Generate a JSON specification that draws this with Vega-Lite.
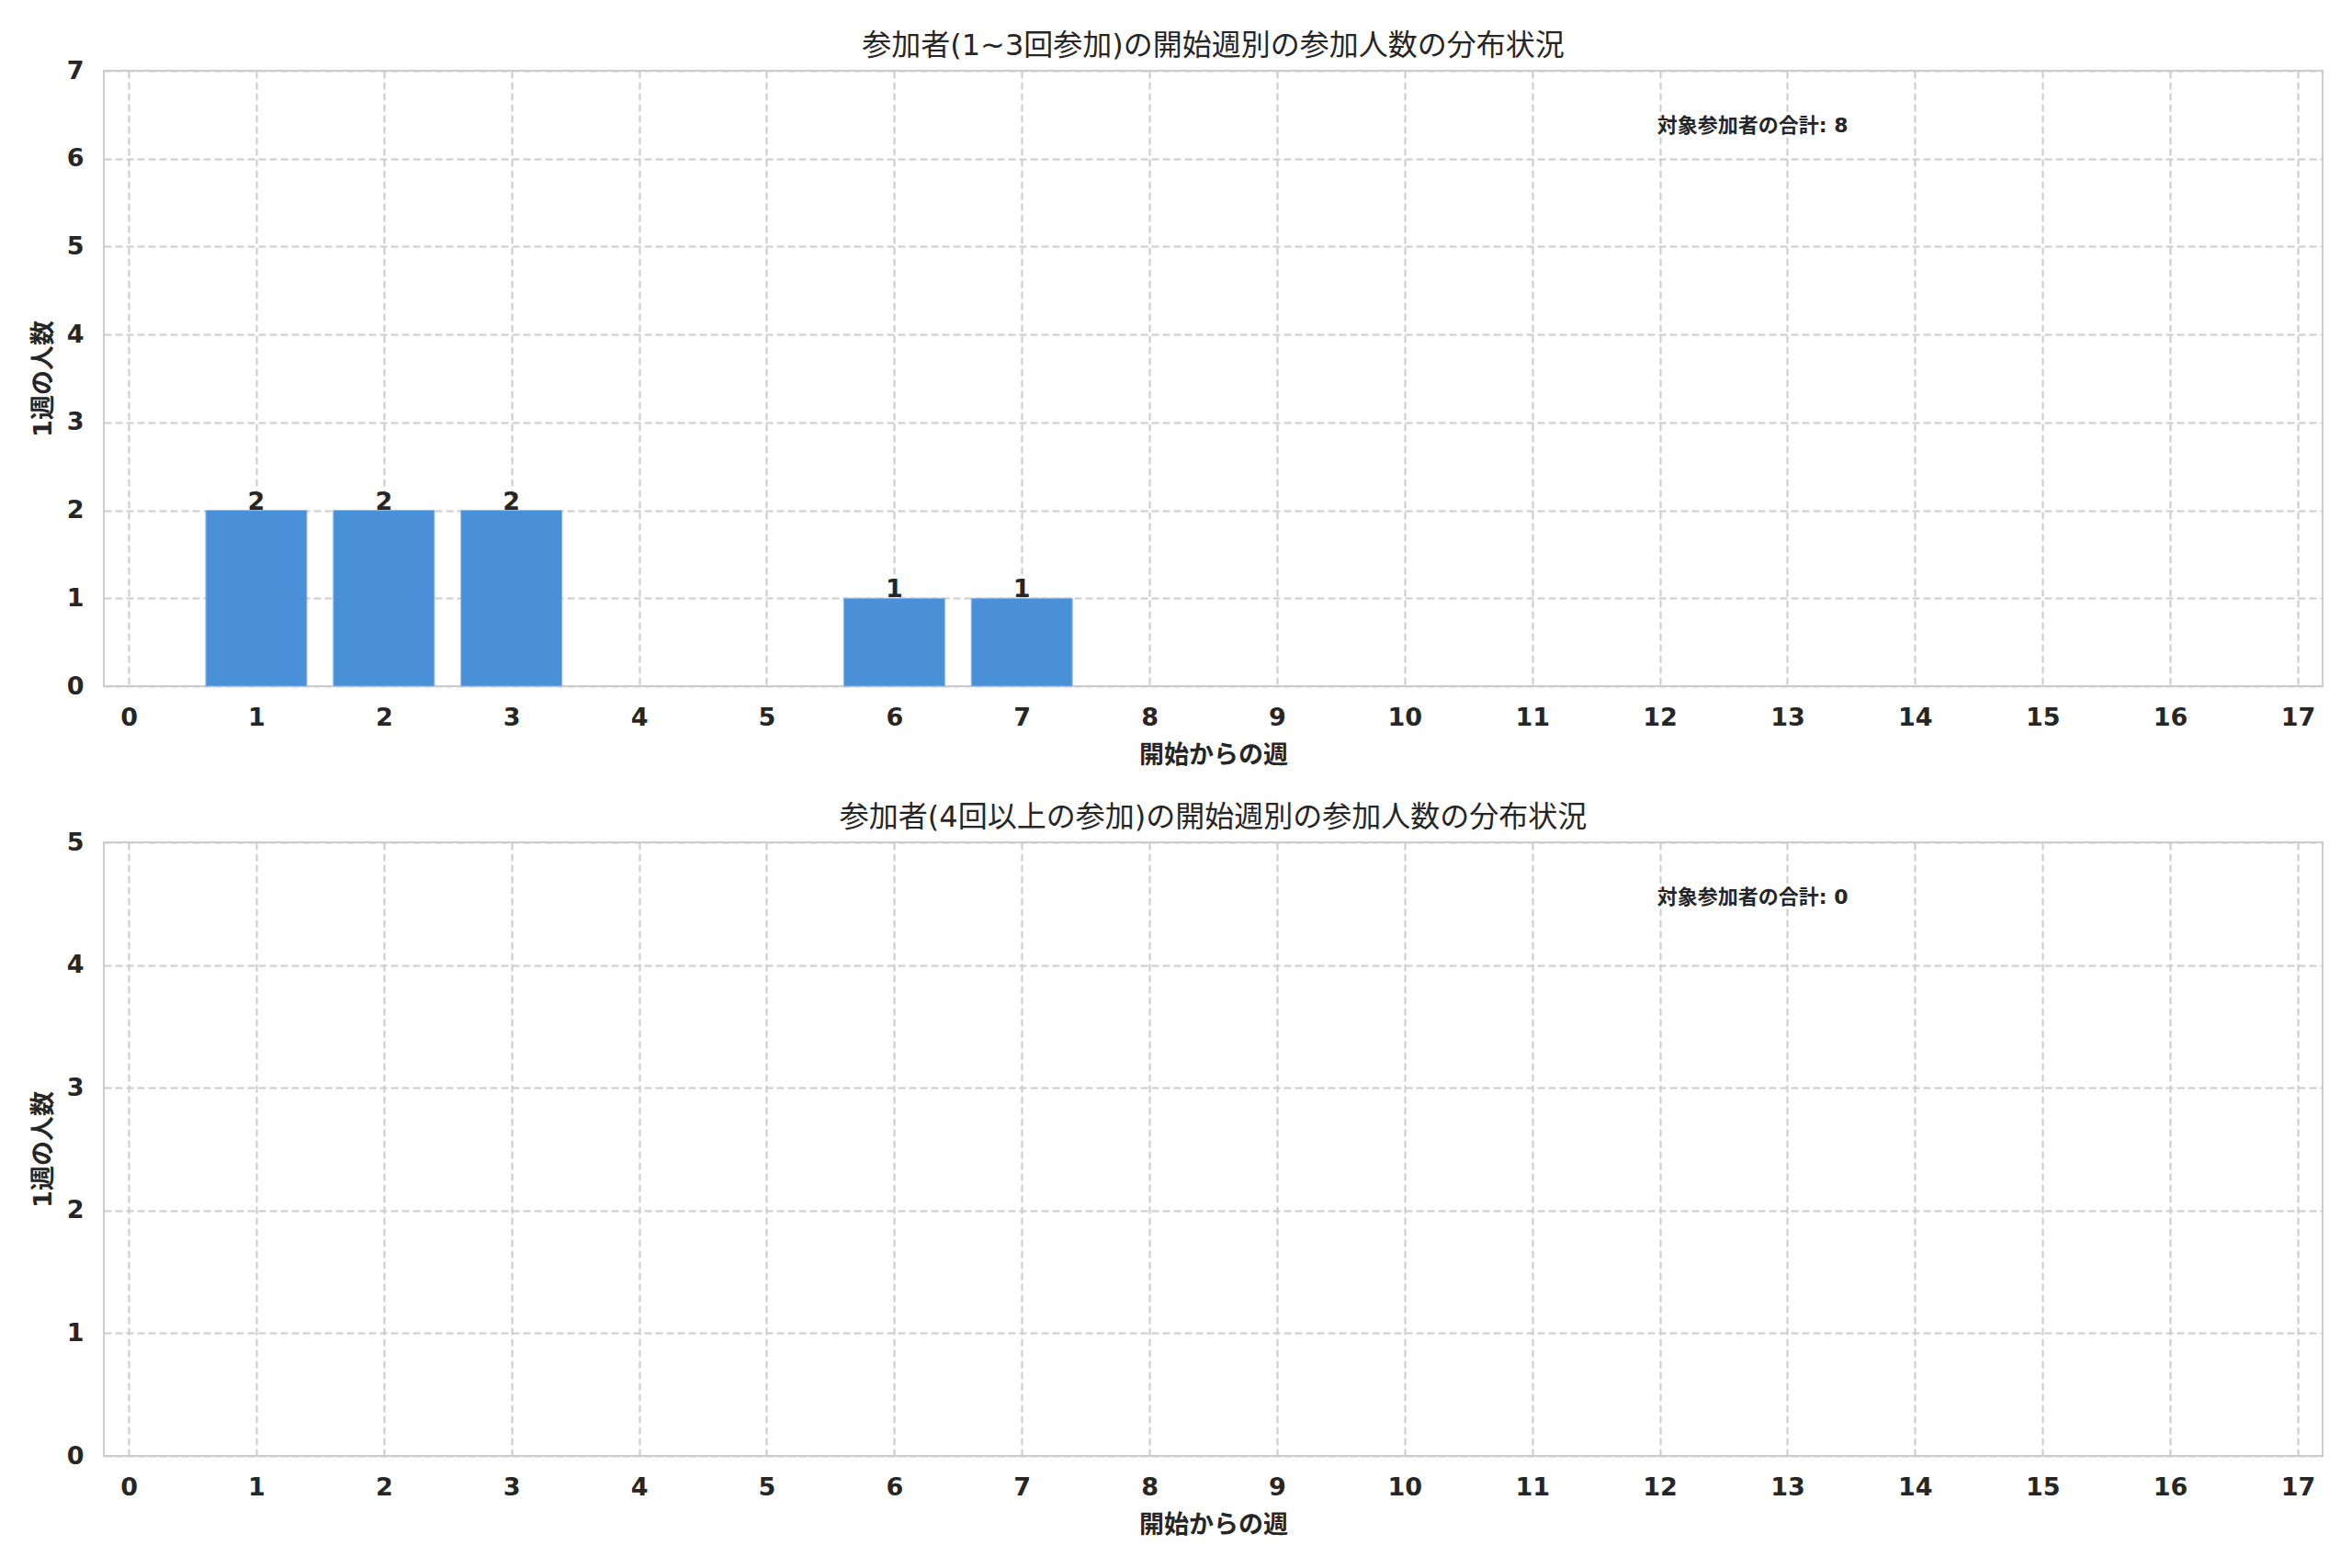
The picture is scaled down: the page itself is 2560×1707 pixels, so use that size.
{
  "$schema": "https://vega.github.io/schema/vega-lite/v6.1.0.json",
  "description": "参加者の週別参加人数の分布 (1~3回参加 / 4回以上の参加)",
  "background": "white",
  "padding": {"left": 32, "top": 33, "right": 20, "bottom": 10},
  "spacing": 37,
  "datasets": {
    "short": [
      {"week": 1, "n": 2},
      {"week": 2, "n": 2},
      {"week": 3, "n": 2},
      {"week": 6, "n": 1},
      {"week": 7, "n": 1}
    ],
    "noteShort": [{"week": 11.98, "n": 6.3, "label": "対象参加者の合計: 8"}],
    "noteLong": [{"week": 11.98, "n": 4.5, "label": "対象参加者の合計: 0"}]
  },
  "vconcat": [
    {
      "title": "参加者(1~3回参加)の開始週別の参加人数の分布状況",
      "width": 2415,
      "height": 670,
      "encoding": {
        "x": {
          "field": "week",
          "type": "quantitative",
          "title": "開始からの週",
          "scale": {"domain": [-0.195, 17.195], "nice": false, "zero": false, "padding": 0},
          "axis": {"values": [0, 1, 2, 3, 4, 5, 6, 7, 8, 9, 10, 11, 12, 13, 14, 15, 16, 17]}
        },
        "y": {
          "field": "n",
          "type": "quantitative",
          "title": "1週の人数",
          "scale": {"domain": [0, 7], "nice": false},
          "axis": {"values": [0, 1, 2, 3, 4, 5, 6, 7]}
        }
      },
      "layer": [
        {
          "data": {"name": "short"},
          "mark": {"type": "bar", "size": 110, "color": "#4a90d9", "stroke": "#8fbbe8", "strokeWidth": 1}
        },
        {
          "data": {"name": "short"},
          "mark": {"type": "text", "baseline": "alphabetic", "dy": -1, "fontSize": 27, "fontWeight": "bold", "color": "#262626"},
          "encoding": {"text": {"field": "n", "type": "quantitative"}}
        },
        {
          "data": {"name": "noteShort"},
          "mark": {"type": "text", "align": "left", "baseline": "alphabetic", "fontSize": 22, "fontWeight": "bold", "color": "#262626"},
          "encoding": {"text": {"field": "label"}}
        }
      ]
    },
    {
      "title": "参加者(4回以上の参加)の開始週別の参加人数の分布状況",
      "width": 2415,
      "height": 668,
      "encoding": {
        "x": {
          "field": "week",
          "type": "quantitative",
          "title": "開始からの週",
          "scale": {"domain": [-0.195, 17.195], "nice": false, "zero": false, "padding": 0},
          "axis": {"values": [0, 1, 2, 3, 4, 5, 6, 7, 8, 9, 10, 11, 12, 13, 14, 15, 16, 17]}
        },
        "y": {
          "field": "n",
          "type": "quantitative",
          "title": "1週の人数",
          "scale": {"domain": [0, 5], "nice": false},
          "axis": {"values": [0, 1, 2, 3, 4, 5]}
        }
      },
      "layer": [
        {
          "data": {"name": "noteLong"},
          "mark": {"type": "text", "align": "left", "baseline": "alphabetic", "fontSize": 22, "fontWeight": "bold", "color": "#262626"},
          "encoding": {"text": {"field": "label"}}
        }
      ]
    }
  ],
  "config": {
    "font": "DejaVu Sans, Noto Sans CJK JP",
    "view": {"stroke": "#cccccc", "strokeWidth": 2},
    "title": {"fontSize": 32, "fontWeight": "normal", "color": "#262626", "offset": -4, "font": "DejaVu Sans, Noto Sans CJK JP"},
    "axis": {
      "domain": false,
      "ticks": false,
      "grid": true,
      "gridColor": "#cccccc",
      "gridWidth": 2,
      "gridDash": [8, 4],
      "labelFontSize": 27,
      "labelFontWeight": "bold",
      "labelColor": "#262626",
      "titleFontSize": 27,
      "titleFontWeight": "bold",
      "titleColor": "#262626",
      "labelFlush": false,
      "labelOverlap": false
    },
    "axisX": {"labelPadding": 21, "titlePadding": 15},
    "axisY": {"labelPadding": 22, "titlePadding": 11}
  }
}
